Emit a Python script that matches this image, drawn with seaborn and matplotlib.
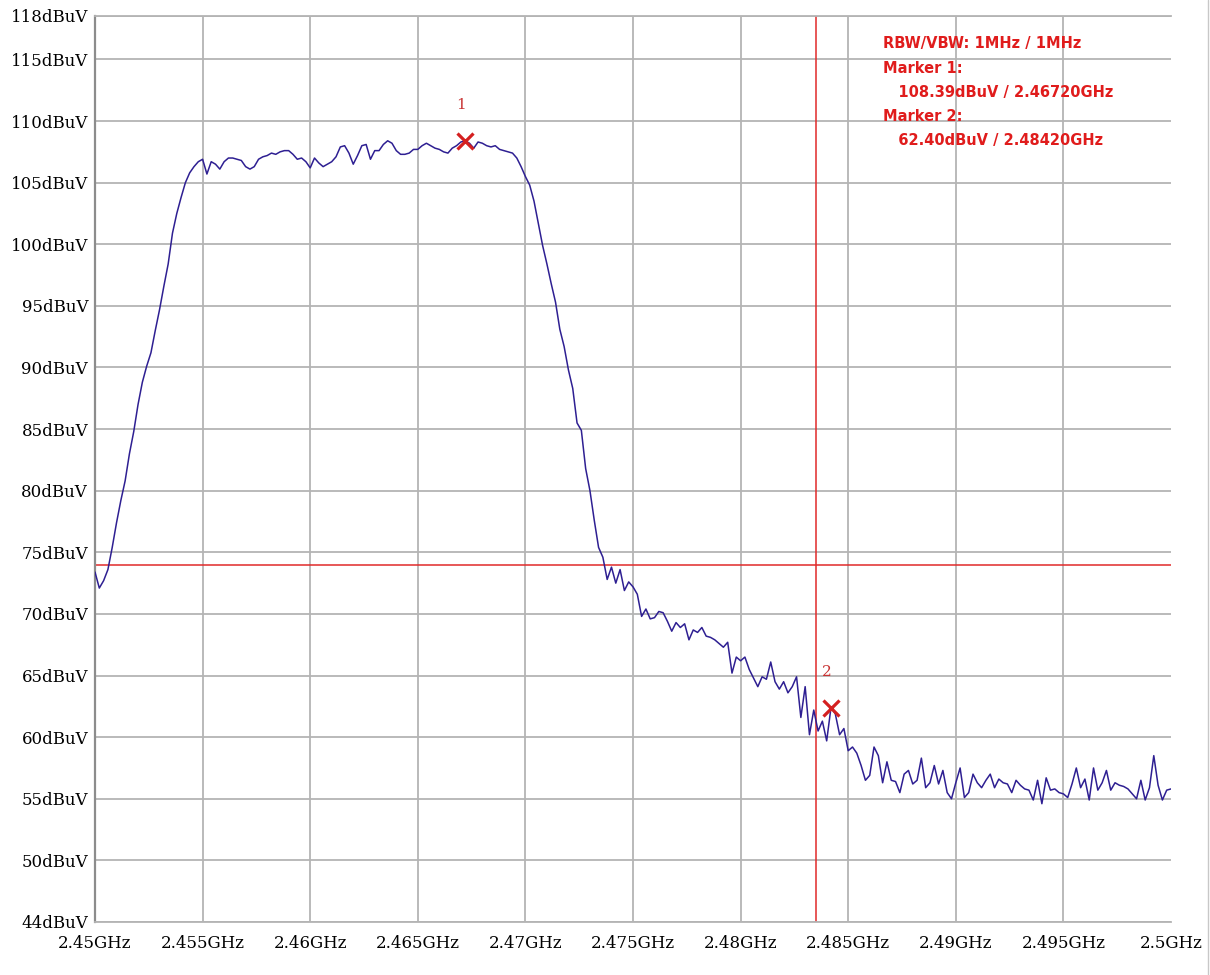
import numpy as np
import pandas as pd
import matplotlib
matplotlib.use("Agg")
import matplotlib.pyplot as plt
from matplotlib.lines import Line2D
import seaborn as sns

# sweep: 2.45 GHz .. 2.5 GHz, 251 points (0.2 MHz apart)
f_start = 2.45
f_stop = 2.50

level = [
    73.4, 72.1, 72.7, 73.6, 75.4, 77.4, 79.2, 80.8, 83.0, 84.8,
    87.0, 88.8, 90.1, 91.2, 93.0, 94.7, 96.6, 98.4, 100.9, 102.5,
    103.8, 105.0, 105.8, 106.3, 106.7, 106.9, 105.7, 106.7, 106.5, 106.1,
    106.7, 107.0, 107.0, 106.9, 106.8, 106.3, 106.1, 106.3, 106.9, 107.1,
    107.2, 107.4, 107.3, 107.5, 107.6, 107.6, 107.3, 106.9, 107.0, 106.7,
    106.2, 107.0, 106.6, 106.3, 106.5, 106.7, 107.1, 107.9, 108.0, 107.4,
    106.5, 107.2, 108.0, 108.1, 106.9, 107.6, 107.6, 108.1, 108.4, 108.2,
    107.6, 107.3, 107.3, 107.4, 107.7, 107.7, 108.0, 108.2, 108.0, 107.8,
    107.7, 107.5, 107.4, 107.8, 108.0, 108.3, 108.4, 108.2, 107.8, 108.3,
    108.2, 108.0, 107.9, 108.0, 107.7, 107.6, 107.5, 107.4, 107.0, 106.3,
    105.5, 104.8, 103.5, 101.7, 99.9, 98.4, 96.8, 95.3, 93.1, 91.7,
    89.8, 88.3, 85.5, 84.9, 81.8, 80.0, 77.6, 75.4, 74.6, 72.8,
    73.8, 72.5, 73.6, 71.9, 72.6, 72.2, 71.6, 69.8, 70.4, 69.6,
    69.7, 70.2, 70.1, 69.4, 68.6, 69.3, 68.9, 69.2, 67.9, 68.7,
    68.5, 68.9, 68.2, 68.1, 67.9, 67.6, 67.3, 67.7, 65.2, 66.5,
    66.2, 66.5, 65.5, 64.8, 64.1, 64.9, 64.7, 66.1, 64.5, 63.9,
    64.5, 63.6, 64.1, 64.9, 61.6, 64.1, 60.2, 62.2, 60.5, 61.3,
    59.7, 62.4, 61.9, 60.2, 60.7, 58.9, 59.2, 58.7, 57.7, 56.5,
    56.9, 59.2, 58.5, 56.3, 58.0, 56.5, 56.4, 55.5, 57.0, 57.3,
    56.2, 56.5, 58.3, 55.9, 56.3, 57.7, 56.2, 57.3, 55.5, 55.0,
    56.3, 57.5, 55.1, 55.5, 57.0, 56.3, 55.9, 56.5, 57.0, 55.9,
    56.6, 56.3, 56.2, 55.5, 56.5, 56.1, 55.8, 55.7, 54.9, 56.5,
    54.6, 56.7, 55.7, 55.8, 55.5, 55.4, 55.1, 56.2, 57.5, 55.9,
    56.6, 54.9, 57.5, 55.7, 56.3, 57.3, 55.7, 56.3, 56.1, 56.0,
    55.8, 55.4, 55.0, 56.5, 54.9, 55.9, 58.5, 56.1, 54.9, 55.7,
    55.8,
]

# markers (frequency GHz, level dBuV)
marker_freq = [2.46720, 2.48420]
marker_level = [108.39, 62.40]
marker_names = ["1", "2"]

# limit lines
limit_level = 74.0
band_edge = 2.4835

# axis ticks
x_ticks = [2.45, 2.455, 2.46, 2.465, 2.47, 2.475, 2.48, 2.485, 2.49, 2.495, 2.5]
x_labels = ["2.45GHz", "2.455GHz", "2.46GHz", "2.465GHz", "2.47GHz", "2.475GHz",
            "2.48GHz", "2.485GHz", "2.49GHz", "2.495GHz", "2.5GHz"]
y_bottom, y_top = 45.0, 118.55
y_ticks = [y_bottom, 50, 55, 60, 65, 70, 75, 80, 85, 90, 95, 100, 105, 110, 115, y_top]
y_labels = ["44dBuV", "50dBuV", "55dBuV", "60dBuV", "65dBuV", "70dBuV", "75dBuV",
            "80dBuV", "85dBuV", "90dBuV", "95dBuV", "100dBuV", "105dBuV",
            "110dBuV", "115dBuV", "118dBuV"]

info_lines = [
    "RBW/VBW: 1MHz / 1MHz",
    "Marker 1:",
    "   108.39dBuV / 2.46720GHz",
    "Marker 2:",
    "   62.40dBuV / 2.48420GHz",
]

df = pd.DataFrame({
    "freq": np.linspace(f_start, f_stop, len(level)),
    "level": level,
})

sns.set_style("white")
plt.rcParams["font.family"] = ["DejaVu Serif"]

fig = plt.figure(figsize=(12.1, 9.75), dpi=100)
ax = fig.add_axes([95 / 1210, 1 - 922 / 975, 1076 / 1210, 906.3 / 975])

grid_col = "#b4b4b4"
red = "#e02a2a"

ax.set_xlim(f_start, f_stop)
ax.set_ylim(y_bottom, y_top)
ax.set_xticks(x_ticks)
ax.set_xticklabels(x_labels)
ax.set_yticks(y_ticks)
ax.set_yticklabels(y_labels)
ax.grid(True, color=grid_col, linewidth=1.3)
ax.set_axisbelow(True)
ax.tick_params(axis="x", length=7.5, width=1.3, color=grid_col, pad=2,
               labelsize=12, labelcolor="black")
ax.tick_params(axis="y", length=0, pad=5, labelsize=12, labelcolor="black")

# no grid line / tick mark at the 2.5GHz end
last_tick = ax.xaxis.get_major_ticks()[-1]
last_tick.gridline.set_visible(False)
last_tick.tick1line.set_visible(False)

ax.spines["right"].set_visible(False)
ax.spines["top"].set_color(grid_col)
ax.spines["top"].set_linewidth(1.3)
ax.spines["bottom"].set_color(grid_col)
ax.spines["bottom"].set_linewidth(1.3)
ax.spines["left"].set_color("#8c8c8c")
ax.spines["left"].set_linewidth(1.6)

# limit lines
ax.axhline(limit_level, color=red, linewidth=1.1, zorder=2)
ax.axvline(band_edge, color=red, linewidth=1.1, zorder=2)

# trace
sns.lineplot(data=df, x="freq", y="level", ax=ax, color="#2e1f92",
             linewidth=1.1, sort=False, zorder=3)
ax.set_xlabel("")
ax.set_ylabel("")

# markers
ax.plot(marker_freq, marker_level, linestyle="none", marker="x",
        markersize=11, markeredgewidth=2.3, color="#d42020", zorder=4)
for mf, ml, name in zip(marker_freq, marker_level, marker_names):
    ax.annotate(name, (mf, ml), xytext=(-4, 36), textcoords="offset pixels",
                ha="center", va="center", fontsize=11, color="#c83232")

# info block
info_y = [44, 68.5, 93, 117, 141]
for txt, py in zip(info_lines, info_y):
    ax.text((883 - 95) / 1076, (922 - py) / 906.3, txt, transform=ax.transAxes,
            ha="left", va="center", fontsize=10.5, fontweight="bold",
            color="#e01c1c", family=["DejaVu Sans"])

# outer frame line at right edge
fig.add_artist(Line2D([1208 / 1210, 1208 / 1210], [0, 1], color="#c8c8c8",
                      linewidth=1.0, transform=fig.transFigure))

fig.savefig("out.png", dpi=100, facecolor="white")
